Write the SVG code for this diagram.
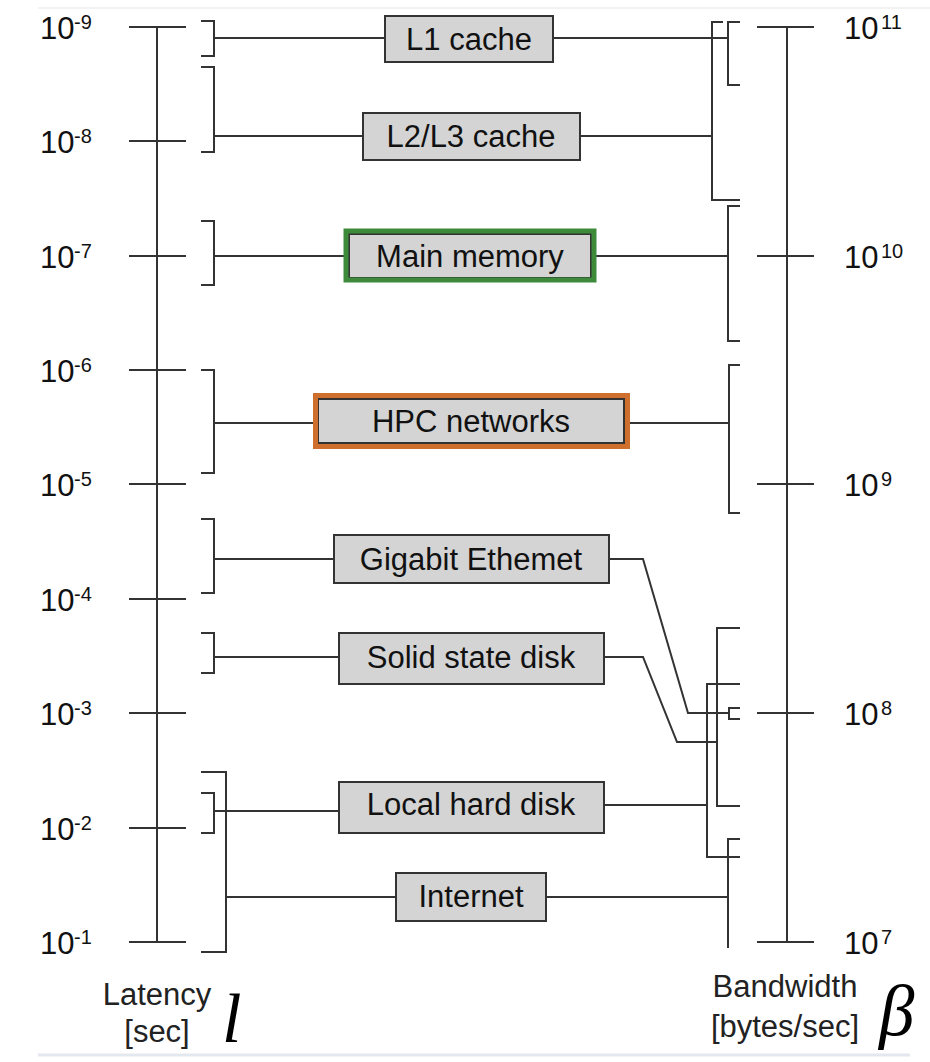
<svg xmlns="http://www.w3.org/2000/svg" width="930" height="1062" viewBox="0 0 930 1062">
<style>
.ln{stroke:#333;stroke-width:2;fill:none}
.box{fill:#d4d4d4;stroke:#333;stroke-width:2}
.bt{font-family:"Liberation Sans",Arial,sans-serif;font-size:31px;fill:#111;text-anchor:middle}
.ax{font-family:"Liberation Sans",Arial,sans-serif;font-size:31px;fill:#111}
.sup{font-size:20px}
.cap{font-family:"Liberation Sans",Arial,sans-serif;font-size:31px;fill:#222;text-anchor:middle}
.sym{font-family:"Liberation Serif","Times New Roman",serif;font-style:italic;fill:#000}
</style>
<rect width="930" height="1062" fill="#fff"/>
<line x1="38" y1="8" x2="930" y2="8" stroke="#f2f2f2" stroke-width="2"/>
<line x1="38" y1="1055" x2="910" y2="1055" stroke="#e3e8ef" stroke-width="3"/>

<g id="latency-axis">
<path class="ln" d="M157,27V942M129,27H186M129,141H186M129,256H186M129,370H186M129,484H186M129,599H186M129,713H186M129,828H186M129,942H186"/>
<text class="ax" x="40" y="39">10<tspan class="sup" x="74" y="29">-9</tspan></text>
<text class="ax" x="40" y="153">10<tspan class="sup" x="74" y="143">-8</tspan></text>
<text class="ax" x="40" y="268">10<tspan class="sup" x="74" y="258">-7</tspan></text>
<text class="ax" x="40" y="382">10<tspan class="sup" x="74" y="372">-6</tspan></text>
<text class="ax" x="40" y="496">10<tspan class="sup" x="74" y="486">-5</tspan></text>
<text class="ax" x="40" y="611">10<tspan class="sup" x="74" y="601">-4</tspan></text>
<text class="ax" x="40" y="725">10<tspan class="sup" x="74" y="715">-3</tspan></text>
<text class="ax" x="40" y="840">10<tspan class="sup" x="74" y="830">-2</tspan></text>
<text class="ax" x="40" y="954">10<tspan class="sup" x="74" y="944">-1</tspan></text>
<text class="cap" x="157" y="1005">Latency</text>
<text class="cap" x="157" y="1042">[sec]</text>
<text class="sym" x="222" y="1042" font-size="70">l</text>
</g>

<g id="bandwidth-axis">
<path class="ln" d="M787,27V942M757,27H814M757,256H814M757,484H814M757,713H814M757,942H814"/>
<text class="ax" x="844" y="39">10<tspan class="sup" x="881" y="29">11</tspan></text>
<text class="ax" x="844" y="268">10<tspan class="sup" x="881" y="258">10</tspan></text>
<text class="ax" x="844" y="496">10<tspan class="sup" x="881" y="486">9</tspan></text>
<text class="ax" x="844" y="725">10<tspan class="sup" x="881" y="715">8</tspan></text>
<text class="ax" x="844" y="954">10<tspan class="sup" x="881" y="944">7</tspan></text>
<text class="cap" x="785" y="997">Bandwidth</text>
<text class="cap" x="785" y="1037">[bytes/sec]</text>
<text class="sym" x="879" y="1035" font-size="71">β</text>
</g>

<g id="connectors">
<path class="ln" d="M201,21H214V56H201M214,38H385"/>
<path class="ln" d="M201,67H214V152H201M214,136H363"/>
<path class="ln" d="M201,221H214V285H201M214,256H349"/>
<path class="ln" d="M201,370H214V473H201M214,423H318"/>
<path class="ln" d="M201,519H214V593H201M214,559H334"/>
<path class="ln" d="M201,633H214V673H201M214,657H339"/>
<path class="ln" d="M201,793H214V833H201M214,811H339"/>
<path class="ln" d="M201,772H226V952H201M226,897H396"/>

<path class="ln" d="M553,38H728M740,22H728V85H740"/>
<path class="ln" d="M580,136H712M723,22H712V200H740"/>
<path class="ln" d="M591,256H728M740,206H728V341H740"/>
<path class="ln" d="M624,423H729M740,365H729V513H740"/>
<path class="ln" d="M609,559H643L688,713H729M740,708H729V719H740"/>
<path class="ln" d="M604,657H643L677,742H717M740,628H717V806H740"/>
<path class="ln" d="M604,805H707M740,684H707V857H740"/>
<path class="ln" d="M546,897H728M740,839H728V948"/>
</g>

<g id="node-l1">
<rect class="box" x="385" y="16" width="168" height="46"/>
<text class="bt" x="469" y="50">L1 cache</text>
</g>
<g id="node-l2l3">
<rect class="box" x="363" y="113" width="217" height="47"/>
<text class="bt" x="471" y="147">L2/L3 cache</text>
</g>
<g id="node-main-memory">
<rect class="box" x="349" y="234" width="242" height="44"/>
<rect x="346" y="231" width="248" height="49" fill="none" stroke="#3c8a3a" stroke-width="5"/>
<text class="bt" x="470" y="267">Main memory</text>
</g>
<g id="node-hpc">
<rect class="box" x="318" y="399" width="306" height="44"/>
<rect x="315.5" y="395.5" width="312" height="51" fill="none" stroke="#cf6f2e" stroke-width="5"/>
<text class="bt" x="471" y="432">HPC networks</text>
</g>
<g id="node-gigabit">
<rect class="box" x="334" y="535" width="275" height="48"/>
<text class="bt" x="471" y="570">Gigabit Ethemet</text>
</g>
<g id="node-ssd">
<rect class="box" x="339" y="633" width="265" height="51"/>
<text class="bt" x="471" y="668">Solid state disk</text>
</g>
<g id="node-hdd">
<rect class="box" x="339" y="782" width="265" height="51"/>
<text class="bt" x="471" y="815">Local hard disk</text>
</g>
<g id="node-internet">
<rect class="box" x="396" y="873" width="150" height="48"/>
<text class="bt" x="471" y="907">Internet</text>
</g>
</svg>
